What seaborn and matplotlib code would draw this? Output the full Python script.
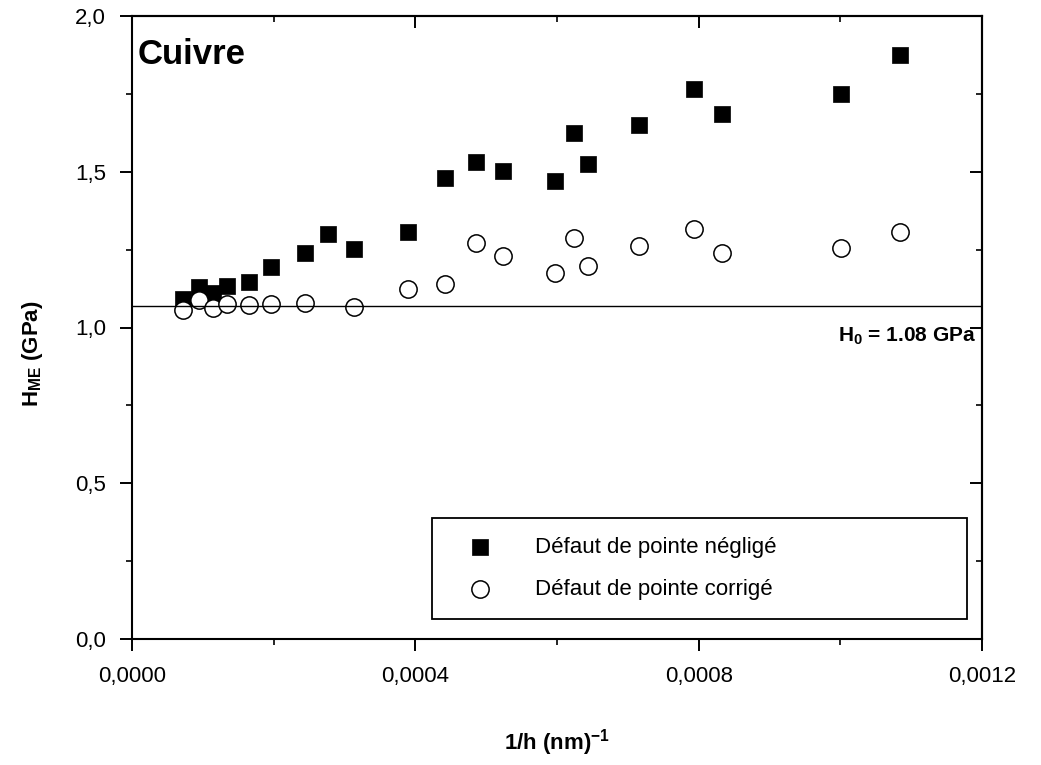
import matplotlib
matplotlib.use("Agg")
import matplotlib.pyplot as plt
import matplotlib.ticker as mticker
import seaborn as sns
import pandas as pd

# ---- data ----
x_neglige = [0.000072, 0.000095, 0.000114, 0.000134, 0.000165, 0.000196, 0.000244,
             0.000277, 0.000313, 0.000390, 0.000442, 0.000486, 0.000524, 0.000597,
             0.000624, 0.000644, 0.000716, 0.000793, 0.000833, 0.001001, 0.001084]
h_neglige = [1.091, 1.130, 1.111, 1.133, 1.146, 1.194, 1.239,
             1.300, 1.252, 1.307, 1.480, 1.531, 1.502, 1.470,
             1.624, 1.525, 1.650, 1.766, 1.685, 1.750, 1.875]

x_corrige = [0.000072, 0.000095, 0.000114, 0.000134, 0.000165, 0.000196, 0.000244,
             0.000313, 0.000390, 0.000442, 0.000486, 0.000524, 0.000597,
             0.000624, 0.000644, 0.000716, 0.000793, 0.000833, 0.001001, 0.001084]
h_corrige = [1.056, 1.088, 1.063, 1.075, 1.072, 1.075, 1.079,
             1.066, 1.124, 1.140, 1.271, 1.230, 1.175,
             1.287, 1.197, 1.262, 1.316, 1.239, 1.255, 1.307]

h0_line = 1.068
label_neglige = "Défaut de pointe négligé"
label_corrige = "Défaut de pointe corrigé"
title_text = "Cuivre"
h0_text = r"H$_{\mathbf{0}}$ = 1.08 GPa"

xtick_values = [0.0, 0.0004, 0.0008, 0.0012]
xtick_labels = ["0,0000", "0,0004", "0,0008", "0,0012"]
ytick_values = [0.0, 0.5, 1.0, 1.5, 2.0]
ytick_labels = ["0,0", "0,5", "1,0", "1,5", "2,0"]

df_n = pd.DataFrame({"x": x_neglige, "h": h_neglige})
df_c = pd.DataFrame({"x": x_corrige, "h": h_corrige})

# ---- style ----
sns.set_style("white")
plt.rcParams["font.family"] = ["Liberation Sans", "DejaVu Sans"]
plt.rcParams["mathtext.fontset"] = "custom"
plt.rcParams["mathtext.rm"] = "Liberation Sans"
plt.rcParams["mathtext.bf"] = "Liberation Sans:bold"
plt.rcParams["mathtext.it"] = "Liberation Sans:italic"
plt.rcParams["axes.unicode_minus"] = False
for k in ["text.color", "axes.labelcolor", "xtick.color", "ytick.color", "axes.edgecolor"]:
    plt.rcParams[k] = "black"

fig = plt.figure(figsize=(10.41, 7.65), dpi=100)
W, H = 1041, 765
left, right, top, bottom = 132, 982, 16, 639
ax = fig.add_axes([left / W, 1 - bottom / H, (right - left) / W, (bottom - top) / H])

sns.scatterplot(data=df_n, x="x", y="h", ax=ax, marker="s", s=135, color="black",
                edgecolor="black", linewidth=0.5, zorder=2, label=label_neglige)
sns.scatterplot(data=df_c, x="x", y="h", ax=ax, marker="o", s=155, facecolor="white",
                edgecolor="black", linewidth=1.1, zorder=3, label=label_corrige)
ax.axhline(h0_line, color="black", lw=1.0, zorder=4)

ax.set_xlim(0, 0.0012)
ax.set_ylim(0, 2.0)

ax.set_xticks(xtick_values)
ax.set_xticklabels(xtick_labels)
ax.set_yticks(ytick_values)
ax.set_yticklabels(ytick_labels)
ax.xaxis.set_minor_locator(mticker.MultipleLocator(0.0002))
ax.yaxis.set_minor_locator(mticker.MultipleLocator(0.25))

ax.tick_params(which="both", bottom=True, left=True, top=False, right=False)
ax.tick_params(which="major", direction="out", length=8.6, width=1.4, labelsize=16,
               colors="black", pad=10)
ax.tick_params(which="minor", direction="out", length=4.3, width=1.2, colors="black")
ax.tick_params(axis="x", which="major", pad=11)

for sp in ax.spines.values():
    sp.set_visible(True)
    sp.set_linewidth(1.5)
    sp.set_color("black")

# inward ticks on top and right
secx = ax.secondary_xaxis("top")
secx.set_xticks(xtick_values)
secx.xaxis.set_minor_locator(mticker.MultipleLocator(0.0002))
secx.tick_params(which="both", top=True)
secx.tick_params(which="major", direction="in", length=8.6, width=1.4, labeltop=False)
secx.tick_params(which="minor", direction="in", length=4.3, width=1.2)
secx.spines["top"].set_linewidth(1.5)
secy = ax.secondary_yaxis("right")
secy.set_yticks(ytick_values)
secy.yaxis.set_minor_locator(mticker.MultipleLocator(0.25))
secy.tick_params(which="both", right=True)
secy.tick_params(which="major", direction="in", length=8.6, width=1.4, labelright=False)
secy.tick_params(which="minor", direction="in", length=4.3, width=1.2)
secy.spines["right"].set_linewidth(1.5)

ax.set_xlabel(r"1/h (nm)$^{\mathbf{-1}}$", fontsize=16, fontweight="bold")
ax.set_ylabel(r"H$_{\mathbf{ME}}$ (GPa)", fontsize=16, fontweight="bold")
ax.xaxis.set_label_coords(0.5, (bottom - 727) / (bottom - top))
ax.yaxis.set_label_coords((45 - left) / (right - left), (bottom - 354) / (bottom - top))

ax.text((138 - left) / (right - left), (bottom - 55) / (bottom - top), title_text,
        transform=ax.transAxes, fontsize=25, fontweight="bold", ha="left", va="center")
ax.text((976 - left) / (right - left), (bottom - 336) / (bottom - top), h0_text,
        transform=ax.transAxes, fontsize=15, fontweight="bold", ha="right", va="center")

leg = ax.legend(loc="lower left",
                bbox_to_anchor=((432 - left) / (right - left), (bottom - 619) / (bottom - top),
                                (967 - 432) / (right - left), 0.164),
                mode="expand", borderaxespad=0, fontsize=16, frameon=True, fancybox=False,
                edgecolor="black", framealpha=1, borderpad=0.85, labelspacing=0.95,
                handlelength=2.6, handletextpad=1.2)
leg.get_frame().set_linewidth(1.3)

fig.savefig("out.png", dpi=100)
